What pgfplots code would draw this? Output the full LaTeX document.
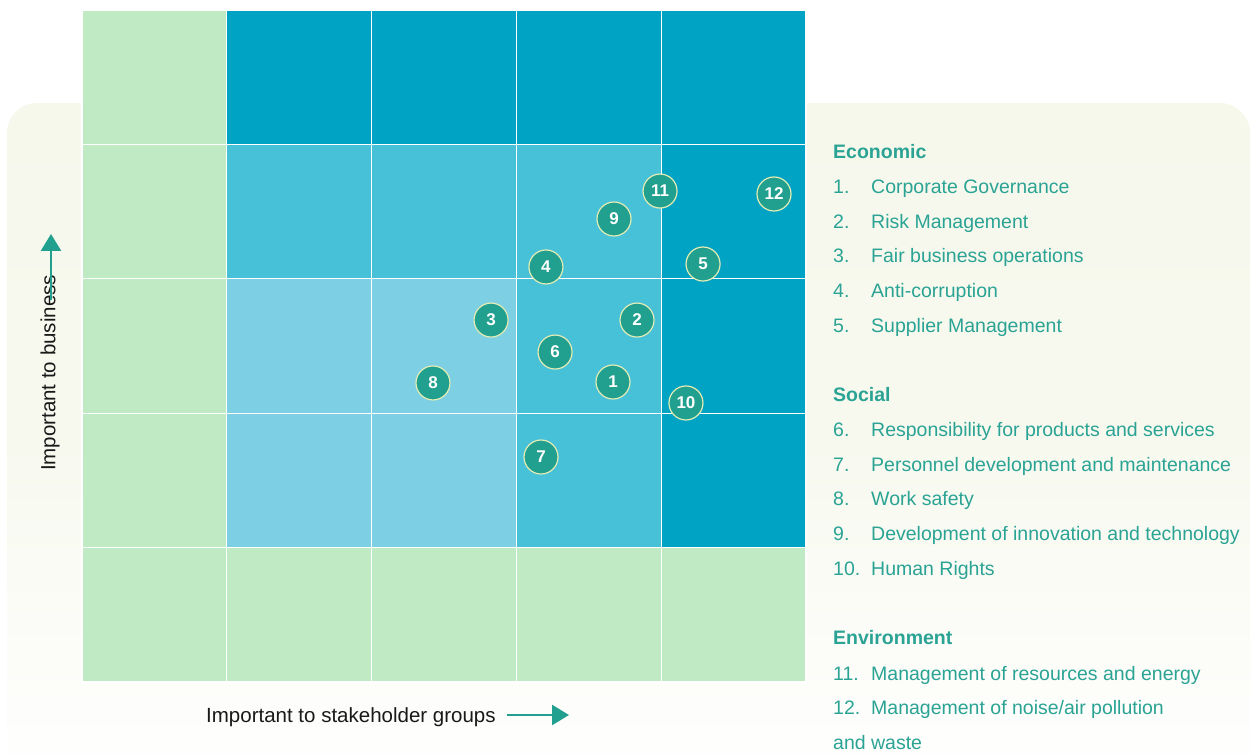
\documentclass[border=0pt]{standalone}
\usepackage{pgfplots}
\pgfplotsset{compat=1.18}
\usepackage{fontspec}
\setmainfont{Liberation Sans}
\usetikzlibrary{arrows.meta}

\definecolor{panel}{HTML}{F6F8EC}
\definecolor{teal}{HTML}{22A08F}
\definecolor{legtxt}{HTML}{2AA394}
\definecolor{ring}{HTML}{E4ECB4}

% cell levels: 0 green, 1 light blue, 2 mid blue, 3 dark blue
\pgfplotstableread{
x   y   c
0.5 0.5 0
1.5 0.5 0
2.5 0.5 0
3.5 0.5 0
4.5 0.5 0
0.5 1.5 0
1.5 1.5 1
2.5 1.5 1
3.5 1.5 2
4.5 1.5 3
0.5 2.5 0
1.5 2.5 1
2.5 2.5 1
3.5 2.5 2
4.5 2.5 3
0.5 3.5 0
1.5 3.5 2
2.5 3.5 2
3.5 3.5 2
4.5 3.5 3
0.5 4.5 0
1.5 4.5 3
2.5 4.5 3
3.5 4.5 3
4.5 4.5 3
}\cells

\pgfplotstableread{
x     y     lab
3.667 2.232 1
3.833 2.693 2
2.825 2.693 3
3.204 3.088 4
4.289 3.110 5
3.267 2.455 6
3.170 1.674 7
2.424 2.225 8
3.674 3.445 9
4.171 2.076 10
3.992 3.653 11
4.779 3.631 12
}\topics

\tikzset{legfont/.style={anchor=base west, inner sep=0pt, text=legtxt,
  font=\fontsize{19.5}{22}\selectfont}}
\newcommand{\leg}[3]{%
  \node[legfont] at (833,#1) {#2};
  \node[legfont] at (871,#1) {#3};}

\begin{document}
\begin{tikzpicture}[x=1pt,y=1pt]
\useasboundingbox (0,0) rectangle (1251,753);
\shade[top color=panel, bottom color=white, middle color=panel!85!white, rounded corners=30pt]
  (7,-40) -- (7,650) -- (1250,650) -- (1250,-40) -- cycle;

\begin{axis}[
  at={(82pt,71pt)}, anchor=south west,
  scale only axis, width=724pt, height=672pt,
  xmin=0, xmax=5, ymin=0, ymax=5,
  hide axis,
  colormap={cells}{rgb255(0)=(191,234,195) rgb255(1)=(125,207,227) rgb255(2)=(70,193,216) rgb255(3)=(0,163,196)},
  point meta min=0, point meta max=3,
  clip=false,
]
\addplot[matrix plot*, mesh/cols=5, point meta=explicit, shader=faceted,
  faceted color=white, line width=1.3pt] table[meta=c] {\cells};
\addplot[only marks, mark=*, mark size=17,
  mark options={fill=teal, draw=ring, line width=1.2pt},
  point meta=explicit symbolic, nodes near coords,
  nodes near coords style={anchor=center, text=white,
    font=\fontsize{17}{17}\selectfont\bfseries}]
  table[meta=lab] {\topics};
\end{axis}

% axis titles
\node[rotate=90, font=\fontsize{20.5}{24}\selectfont, text=black!90] at (50,380) {Important to business};
\draw[teal, line width=2.6pt, -{Triangle[width=20pt,length=17pt]}] (51,453) -- (51,519);
\node[anchor=base west, inner sep=0pt, font=\fontsize{20.5}{24}\selectfont, text=black!90] at (206,31) {Important to stakeholder groups};
\draw[teal, line width=2.6pt, -{Triangle[width=20pt,length=17pt]}] (507,38) -- (569,38);

% legend
\node[legfont, font=\fontsize{19.5}{22}\selectfont\bfseries] at (833,594) {Economic};
\leg{559}{1.}{Corporate Governance}
\leg{524}{2.}{Risk Management}
\leg{490}{3.}{Fair business operations}
\leg{455}{4.}{Anti-corruption}
\leg{420}{5.}{Supplier Management}
\node[legfont, font=\fontsize{19.5}{22}\selectfont\bfseries] at (833,351) {Social};
\leg{316}{6.}{Responsibility for products and services}
\leg{281}{7.}{Personnel development and maintenance}
\leg{247}{8.}{Work safety}
\leg{212}{9.}{Development of innovation and technology}
\leg{177}{10.}{Human Rights}
\node[legfont, font=\fontsize{19.5}{22}\selectfont\bfseries] at (833,108) {Environment};
\leg{73}{11.}{Management of resources and energy}
\leg{39}{12.}{Management of noise/air pollution}
\node[legfont] at (833,4) {and waste};
\end{tikzpicture}
\end{document}
